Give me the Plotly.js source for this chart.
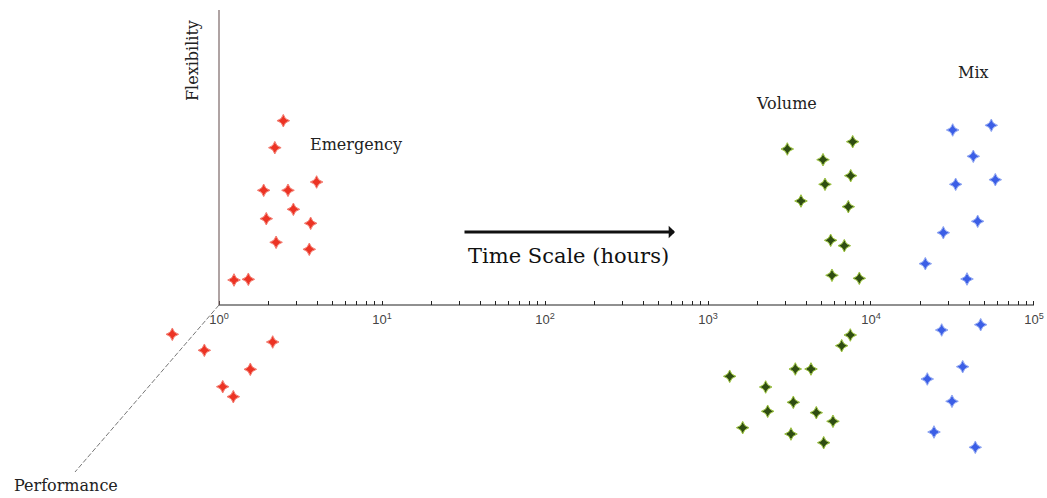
<!DOCTYPE html>
<html>
<head>
<meta charset="utf-8">
<script src="https://cdn.plot.ly/plotly-3.0.1.min.js"></script>
<style>html,body{margin:0;padding:0;background:#fff;}#chart{width:1047px;height:498px;}</style>
</head>
<body>
<div id="chart"></div>
<script>
// Time scale (hours) and flexibility (+) / performance (-) values, arbitrary units
const emergencyUpX = [2.48, 2.20, 3.97, 1.88, 2.65, 2.86, 1.95, 3.65, 2.24, 3.58, 1.236, 1.513];
const emergencyUpY = [18.43, 15.73, 12.3, 11.47, 11.47, 9.57, 8.63, 8.17, 6.27, 5.57, 2.5, 2.57];
const emergencyDownX = [0.517, 0.813, 2.135, 1.556, 1.054, 1.224];
const emergencyDownY = [-2.93, -4.53, -3.7, -6.43, -8.17, -9.17];

const volumeUpX = [3066, 7723, 5077, 7509, 5222, 3720, 7258, 5658, 6859, 5762, 8477];
const volumeUpY = [15.6, 16.33, 14.53, 12.93, 12.07, 10.4, 9.83, 6.47, 5.93, 2.97, 2.67];
const volumeDownX = [7464, 6610, 3432, 4284, 1359, 2259, 3337, 2324, 4617, 5845, 1633, 3229, 5127];
const volumeDownY = [-3.0, -4.07, -6.4, -6.4, -7.13, -8.2, -9.73, -10.63, -10.77, -11.63, -12.27, -12.9, -13.77];

const mixUpX = [31710, 54700, 42420, 33080, 57890, 45140, 27770, 21540, 38820];
const mixUpY = [17.5, 17.97, 14.87, 12.07, 12.53, 8.37, 7.23, 4.13, 2.6];
const mixDownX = [47100, 27150, 36520, 22150, 31400, 24350, 43640];
const mixDownY = [-1.97, -2.5, -6.17, -7.4, -9.63, -12.7, -14.23];

const majorTicks = [1, 10, 100, 1000, 10000, 100000];
const majorTickText = ['10<sup>0</sup>', '10<sup>1</sup>', '10<sup>2</sup>', '10<sup>3</sup>', '10<sup>4</sup>', '10<sup>5</sup>'];
const minorMultipliers = [2, 3, 4, 5, 6, 7, 8, 9];

// all tick positions (majors + minors); only majors carry a label
const allTicks = [];
const allTickText = [];
for (let d = 0; d < 5; d++) {
  allTicks.push(majorTicks[d]);
  allTickText.push(majorTickText[d]);
  minorMultipliers.forEach(k => { allTicks.push(k * majorTicks[d]); allTickText.push(''); });
}
allTicks.push(majorTicks[5]);
allTickText.push(majorTickText[5]);

function pts(x, y, color, line) {
  return {
    type: 'scatter', mode: 'markers', x: x, y: y,
    hoverinfo: 'skip', showlegend: false,
    marker: {symbol: 'star-diamond', size: 9, color: color, line: {color: line, width: 1}}
  };
}

const data = [
  pts(emergencyUpX.concat(emergencyDownX), emergencyUpY.concat(emergencyDownY), '#ec3324', '#f37a6e'),
  pts(volumeUpX.concat(volumeDownX), volumeUpY.concat(volumeDownY), '#2f4d12', '#9bc23c'),
  pts(mixUpX.concat(mixDownX), mixUpY.concat(mixDownY), '#3b5ee6', '#8fa6f2')
];

const W = 1047, H = 498;
const serif = 'DejaVu Serif, serif';
const layout = {
  width: W, height: H,
  margin: {l: 0, r: 0, t: 0, b: 0},
  paper_bgcolor: '#fff', plot_bgcolor: '#fff',
  showlegend: false,
  xaxis: {
    type: 'log', range: [-1.3436, 5.0798],
    anchor: 'free', position: (H - 305) / H,
    showgrid: false, zeroline: false, showline: false,
    ticks: 'inside', ticklen: 4, tickwidth: 1, tickcolor: '#222',
    tickmode: 'array', tickvals: allTicks, ticktext: allTickText,
    ticklabelstandoff: 5,
    tickfont: {family: 'Liberation Sans, Arial, sans-serif', size: 13, color: '#444'}
  },
  yaxis: {
    range: [-19.3, 30.5], showgrid: false, zeroline: false, showline: false,
    showticklabels: false, ticks: ''
  },
  shapes: [
    {type: 'line', xref: 'paper', yref: 'y', x0: 219 / W, x1: 1034 / W, y0: 0, y1: 0, line: {color: '#222', width: 1.2}},
    {type: 'line', xref: 'paper', yref: 'y', x0: 219 / W, x1: 219 / W, y0: 0, y1: 29.5, line: {color: '#7a6666', width: 1.2}},
    {type: 'line', xref: 'paper', yref: 'y', x0: 219 / W, x1: 75 / W, y0: 0, y1: -16.7, line: {color: '#777', width: 1, dash: '5px,2px'}}
  ],
  annotations: [
    {text: 'Flexibility', xref: 'paper', yref: 'paper', x: 193 / W, y: 1 - 61 / H, textangle: -90,
     showarrow: false, xanchor: 'center', yanchor: 'middle', font: {family: serif, size: 16, color: '#222'}},
    {text: 'Performance', xref: 'paper', yref: 'paper', x: 66 / W, y: 1 - 485 / H,
     showarrow: false, xanchor: 'center', yanchor: 'middle', font: {family: serif, size: 16, color: '#222'}},
    {text: 'Emergency', xref: 'paper', yref: 'paper', x: 356 / W, y: 1 - 144 / H,
     showarrow: false, xanchor: 'center', yanchor: 'middle', font: {family: serif, size: 16, color: '#222'}},
    {text: 'Volume', xref: 'paper', yref: 'paper', x: 786 / W, y: 1 - 104 / H,
     showarrow: false, xanchor: 'center', yanchor: 'middle', font: {family: serif, size: 16, color: '#222'}},
    {text: 'Mix', xref: 'paper', yref: 'paper', x: 973 / W, y: 1 - 72 / H,
     showarrow: false, xanchor: 'center', yanchor: 'middle', font: {family: serif, size: 16, color: '#222'}},
    {text: 'Time Scale (hours)', xref: 'paper', yref: 'paper', x: 568 / W, y: 1 - 256 / H,
     showarrow: false, xanchor: 'center', yanchor: 'middle', font: {family: serif, size: 21, color: '#111'}},
    {text: '', xref: 'paper', yref: 'paper', x: 675 / W, y: 1 - 232 / H, ax: -212, ay: 0,
     showarrow: true, arrowhead: 1, arrowsize: 0.7, arrowwidth: 3, arrowcolor: '#111'}
  ]
};

Plotly.newPlot('chart', data, layout, {displayModeBar: false, staticPlot: true});
</script>
</body>
</html>
